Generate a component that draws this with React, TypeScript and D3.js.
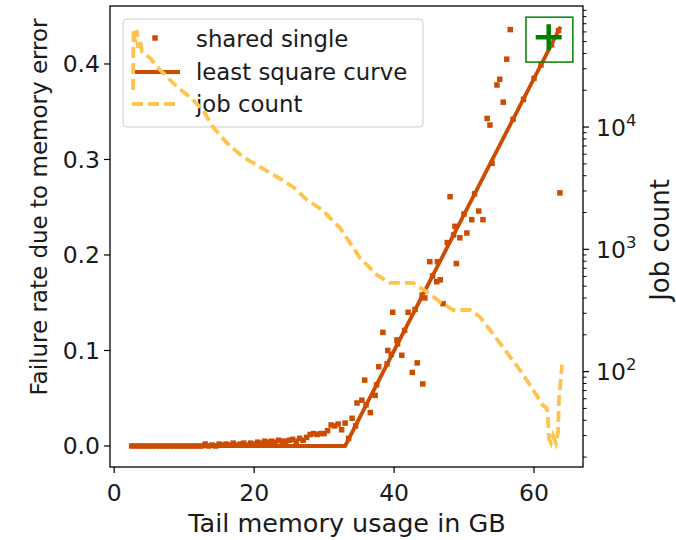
import React from "react";
import * as d3 from "d3";

// ---------- Data ----------
// "shared single": failure rate due to memory error per tail-memory bin (GB)
const memGB = [
  2.5, 3, 3.5, 4, 4.5, 5, 5.5, 6, 6.5, 7, 7.5, 8, 8.5, 9, 9.5, 10, 10.5, 11,
  11.5, 12, 12.5, 13, 13.5, 14, 14.5, 15, 15.5, 16, 16.5, 17, 17.5, 18, 18.5,
  19, 19.5, 20, 20.5, 21, 21.5, 22, 22.5, 23, 23.5, 24, 24.5, 25, 25.5, 26,
  26.5, 27, 27.5, 28, 28.5, 29, 29.5, 30, 30.5, 31, 31.5, 32, 32.5, 33, 33.5,
  34.0, 34.5, 34.7, 35.4, 35.8, 36.0, 36.6, 37.3, 37.5, 37.8, 38.4, 39.0, 39.1,
  39.6, 39.8, 40.4, 40.5, 41.1, 41.5, 42.0, 42.6, 43.0, 43.3, 44.0, 44.1, 44.4,
  45.1, 45.5, 46.1, 46.2, 46.6, 47.0, 47.6, 48.0, 48.5, 48.7, 48.9, 49.4, 50.0,
  50.4, 51.1, 51.5, 52.1, 52.7, 53.3, 53.7, 54.0, 54.7, 55.1, 55.6, 56.1, 56.6,
  57.0, 58.5, 60.0, 61.0, 62.5, 63.5, 63.7,
];
const failRate = [
  0, 0, 0, 0, 0, 0, 0, 0, 0, 0, 0, 0, 0, 0, 0, 0, 0, 0,
  0, 0, 0, 0.002, 0, 0.001, 0, 0.002, 0.001, 0.002, 0.001, 0.003, 0.001, 0.002, 0.003,
  0.001, 0.003, 0.002, 0.004, 0.003, 0.005, 0.004, 0.005, 0.004, 0.006, 0.005, 0.005, 0.006, 0.007, 0.005,
  0.008, 0.006, 0.009, 0.012, 0.013, 0.012, 0.013, 0.013, 0.016, 0.022, 0.021, 0.023, 0.017, 0.024, 0.008,
  0.029, 0.021, 0.045, 0.048, 0.069, 0.043, 0.035, 0.053, 0.064, 0.083, 0.119, 0.086, 0.1,
  0.096, 0.14, 0.111, 0.107, 0.095, 0.121, 0.14, 0.077, 0.143, 0.087, 0.158, 0.065, 0.155,
  0.193, 0.178, 0.172, 0.193, 0.174, 0.149, 0.213, 0.261, 0.221, 0.23, 0.191, 0.218, 0.243,
  0.223, 0.237, 0.264, 0.246, 0.237, 0.343, 0.336, 0.296, 0.378, 0.384, 0.36, 0.405, 0.436,
  0.342, 0.363, 0.385, 0.399, 0.42, 0.435, 0.265,
];

// least square curve
const fitGB = [2.5, 33.0, 63.8];
const fitRate = [0, 0, 0.439];

// job count per bin (right axis, log)
const jobGB = [
  2.69, 2.76, 2.97, 3.26, 3.4, 3.69, 3.97, 5.12, 6.55, 8.98, 10.83, 12.69, 14.12,
  16.12, 18.41, 20.84, 23.27, 25.55, 27.55, 29.7, 32.27, 35.13, 37.56, 39.42,
  42.7, 44.7, 46.56, 48.42, 50.85, 52.28, 53.71, 55.14, 56.57, 58.0, 59.86,
  61.28, 61.85, 62.0, 62.14, 62.43, 62.71, 63.14, 63.43, 63.57, 64.0,
];
const jobCount = [
  20100, 62200, 49700, 62200, 44400, 51500, 41100, 36700, 29300, 21300, 17600,
  13800, 10000, 7400, 5690, 4720, 3910, 3240, 2540, 2100, 1500, 850, 617, 531,
  531, 448, 372, 319, 319, 280, 219, 171, 132, 103, 71, 53, 50, 40, 28, 26, 30,
  26, 32, 59, 114,
];

// highlighted point and its box (data coords)
const markGB = 62.1;
const markRate = 0.428;
const boxGB = [58.85, 65.55];
const boxRate = [0.402, 0.449];

const leftTicks = [0, 0.1, 0.2, 0.3, 0.4];
const leftTickLabels = ["0.0", "0.1", "0.2", "0.3", "0.4"];
const bottomTicks = [0, 20, 40, 60];
const rightMajor = [2, 3, 4]; // exponents of 10
const legendLabels = ["shared single", "least square curve", "job count"];

const DARK = "#cc4c02";
const LIGHT = "#fec44f";
const GREEN = "#008000";
const FONT = "DejaVu Sans, sans-serif";

const App: React.FC = () => {
  const W = 676;
  const H = 540;
  const left = 110,
    right = 583,
    top = 6,
    bottom = 467;

  const x = d3.scaleLinear().domain([-0.6, 67.0]).range([left, right]);
  const y = d3.scaleLinear().domain([-0.022, 0.4607]).range([bottom, top]);
  const yR = d3
    .scaleLog()
    .domain([Math.pow(10, 1.22), Math.pow(10, 4.99)])
    .range([bottom, top]);

  const fitLine = d3
    .line<number>()
    .x((_, i) => x(fitGB[i]))
    .y((d) => y(d));

  const jobLine = d3
    .line<number>()
    .x((_, i) => x(jobGB[i]))
    .y((d) => yR(d));

  // minor log ticks inside the domain
  const [lo, hi] = yR.domain();
  const minor: number[] = [];
  for (let e = 1; e <= 4; e++) {
    for (let m = 2; m <= 9; m++) {
      const v = m * Math.pow(10, e);
      if (v >= lo && v <= hi) minor.push(v);
    }
  }

  const ms = 5.5;
  const textCol = "#1a1a1a";
  const tickFont = 23.5;

  return (
    <svg
      width={W}
      height={H}
      style={{ position: "absolute", left: 0, top: 0, background: "#fff" }}
      fontFamily={FONT}
    >
      <defs>
        <clipPath id="plot">
          <rect x={left} y={top} width={right - left} height={bottom - top} />
        </clipPath>
      </defs>

      {/* primary axis content */}
      <g clipPath="url(#plot)">
        <path
          d={fitLine(fitRate) ?? ""}
          fill="none"
          stroke={DARK}
          strokeWidth={3.8}
        />
        {failRate.map((v, i) => (
          <rect
            key={i}
            x={x(memGB[i]) - ms / 2}
            y={y(v) - ms / 2}
            width={ms}
            height={ms}
            fill={DARK}
          />
        ))}
        <rect
          x={x(boxGB[0])}
          y={y(boxRate[1])}
          width={x(boxGB[1]) - x(boxGB[0])}
          height={y(boxRate[0]) - y(boxRate[1])}
          fill="none"
          stroke={GREEN}
          strokeWidth={1.5}
        />
        <g stroke={GREEN} strokeWidth={4.5}>
          <line
            x1={x(markGB) - 13}
            x2={x(markGB) + 13}
            y1={y(markRate)}
            y2={y(markRate)}
          />
          <line
            x1={x(markGB)}
            x2={x(markGB)}
            y1={y(markRate) - 13}
            y2={y(markRate) + 13}
          />
        </g>
      </g>

      {/* legend */}
      <g>
        <rect
          x={123}
          y={19}
          width={300}
          height={108}
          rx={4}
          fill="#fff"
          fillOpacity={0.8}
          stroke="#cccccc"
          strokeWidth={1}
        />
        <rect x={155 - ms / 2} y={38 - ms / 2} width={ms} height={ms} fill={DARK} />
        <line x1={132} x2={180} y1={72} y2={72} stroke={DARK} strokeWidth={3.8} />
        <line
          x1={132}
          x2={180}
          y1={104}
          y2={104}
          stroke={LIGHT}
          strokeWidth={3.8}
          strokeDasharray="11 5"
        />
        {legendLabels.map((t, i) => (
          <text
            key={t}
            x={196}
            y={47 + i * 32.5}
            fontSize={22.8}
            fill={textCol}
          >
            {t}
          </text>
        ))}
      </g>

      {/* twin axis: job count */}
      <g clipPath="url(#plot)">
        <path
          d={jobLine(jobCount) ?? ""}
          fill="none"
          stroke={LIGHT}
          strokeWidth={3.8}
          strokeDasharray="11 5"
        />
      </g>

      {/* frame */}
      <rect
        x={left}
        y={top}
        width={right - left}
        height={bottom - top}
        fill="none"
        stroke="#000"
        strokeWidth={1.3}
      />

      {/* left axis */}
      {leftTicks.map((t, i) => (
        <g key={t} transform={`translate(${left},${y(t)})`}>
          <line x1={-6} x2={0} stroke="#000" strokeWidth={1.2} />
          <text
            x={-10}
            dy="0.36em"
            textAnchor="end"
            fontSize={tickFont}
            fill={textCol}
          >
            {leftTickLabels[i]}
          </text>
        </g>
      ))}

      {/* bottom axis */}
      {bottomTicks.map((t) => (
        <g key={t} transform={`translate(${x(t)},${bottom})`}>
          <line y2={6} stroke="#000" strokeWidth={1.2} />
          <text y={34} textAnchor="middle" fontSize={tickFont} fill={textCol}>
            {t}
          </text>
        </g>
      ))}

      {/* right axis (log) */}
      {rightMajor.map((e) => (
        <g key={e} transform={`translate(${right},${yR(Math.pow(10, e))})`}>
          <line x2={6} stroke="#000" strokeWidth={1.2} />
          <text x={13} dy="0.36em" fontSize={tickFont} fill={textCol}>
            10
            <tspan dy={-10} fontSize={16.5}>
              {e}
            </tspan>
          </text>
        </g>
      ))}
      {minor.map((v) => (
        <line
          key={v}
          x1={right}
          x2={right + 3.5}
          y1={yR(v)}
          y2={yR(v)}
          stroke="#000"
          strokeWidth={1}
        />
      ))}

      {/* axis titles */}
      <text
        x={(left + right) / 2 + 0.5}
        y={532}
        textAnchor="middle"
        fontSize={25.5}
        fill={textCol}
      >
        Tail memory usage in GB
      </text>
      <text
        transform={`translate(47,207) rotate(-90)`}
        textAnchor="middle"
        fontSize={23}
        fill={textCol}
      >
        Failure rate due to memory error
      </text>
      <text
        transform={`translate(669,240) rotate(-90)`}
        textAnchor="middle"
        fontSize={26}
        fill={textCol}
      >
        Job count
      </text>
    </svg>
  );
};

export default App;
